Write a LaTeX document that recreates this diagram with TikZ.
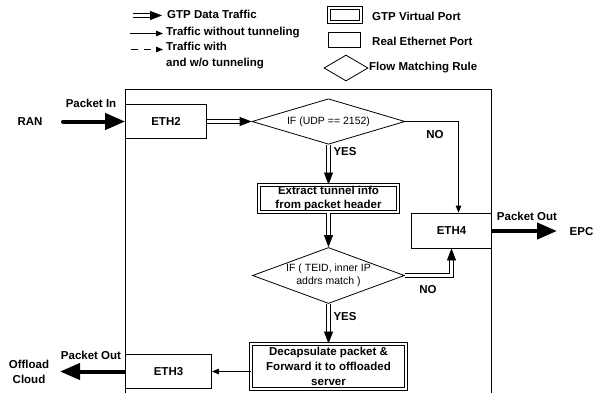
\documentclass[tikz,border=0pt]{standalone}
\usepackage{fontspec}
\setmainfont{Liberation Sans}
\usetikzlibrary{arrows.meta,shapes.geometric,calc}
\begin{document}
\begin{tikzpicture}[x=1pt,y=-1pt,
  bf/.style={font=\fontsize{11.5}{15}\selectfont\bfseries},
  port/.style={draw, rectangle, line width=0.8pt, inner sep=0pt, align=center, bf},
  gtp/.style={port, double, line width=1pt, double distance=2pt},
  rule/.style={draw, diamond, aspect=3, inner sep=0pt, line width=0.8pt, align=center, font=\fontsize{10.5}{12.5}\selectfont},
  dbl/.style={draw=none,
    postaction={draw, double, double distance=3pt, line width=1pt, shorten >=6pt},
    postaction={draw, line width=0.8pt, dash pattern=on 0pt off 10000pt, -{Triangle[length=12pt,width=9pt]}}},
  plain/.style={line width=1pt, -{Triangle[length=7pt,width=5.5pt]}},
  fat/.style={line width=4pt, -{Triangle[length=20pt,width=16pt]}},
  txt/.style={bf, inner sep=0pt},
]
\useasboundingbox (0,0) rectangle (596,392);

% outer switch box
\draw[line width=1pt] (125.5,393) -- (125.5,89.5) -- (491.5,89.5) -- (491.5,393);

% legend
\coordinate (g1) at (133,15.5); \coordinate (g2) at (162,15.5);
\path[dbl] (g1) -- (g2);
\node[txt, anchor=west] (tg) at (167,14.5) {GTP Data Traffic};
\coordinate (s1) at (130,33.5); \coordinate (s2) at (163,33.5);
\draw[plain] (s1) -- (s2);
\node[txt, anchor=west] (ts) at (166,33) {Traffic without tunneling};
\coordinate (h1) at (131,49.5); \coordinate (h2) at (163,49.5);
\draw[plain, dash pattern=on 7pt off 6pt] (h1) -- (h2);
\node[txt, anchor=west, align=left, font=\fontsize{11.5}{16}\selectfont\bfseries] (th) at (166,56) {Traffic with\\and w/o tunneling};
\node[gtp, minimum width=32pt, minimum height=14pt] (lgtp) at (345,15) {};
\node[txt, anchor=west] (tlg) at (372,16) {GTP Virtual Port};
\node[port, minimum width=32pt, minimum height=15pt] (leth) at (344,39.5) {};
\node[txt, anchor=west] (tle) at (372,41) {Real Ethernet Port};
\node[rule, minimum width=44pt, minimum height=26pt] (lrule) at (346,68) {};
\node[txt, anchor=west] (tlr) at (369,68) {Flow Matching Rule};

% ports and steps
\node[port, minimum width=81pt, minimum height=34pt] (eth2) at (166,121.5) {ETH2};
\node[port, minimum width=80pt, minimum height=35pt] (eth4) at (451.5,230.5) {ETH4};
\node[port, minimum width=86pt, minimum height=34pt] (eth3) at (168.5,371.5) {ETH3};
\node[rule, minimum width=153pt, minimum height=45.5pt] (d1) at (328.5,121.5) {IF (UDP == 2152)};
\node[gtp, minimum width=139pt, minimum height=27pt] (ext) at (328.5,198.5) {Extract tunnel info\\[-0.5pt]from packet header};
\node[rule, minimum width=152pt, minimum height=56pt] (d2) at (328.5,275.5) {IF ( TEID, inner IP\\addrs match )};
\node[gtp, minimum width=155pt, minimum height=45pt] (dec) at (328.5,366.5) {Decapsulate packet \&\\Forward it to offloaded\\server};

% labels
\node[txt] (ran) at (30,122) {RAN};
\node[txt] (pin) at (91,103) {Packet In};
\node[txt] (pout1) at (527,216) {Packet Out};
\node[txt] (epc) at (581.5,232) {EPC};
\node[txt] (pout2) at (91,355) {Packet Out};
\node[txt, align=center] (off) at (29,371.5) {Offload\\Cloud};
\node[txt] (yes1) at (345,152) {YES};
\node[txt] (no1) at (435,135) {NO};
\node[txt] (no2) at (428,290) {NO};
\node[txt] (yes2) at (345,317) {YES};

% external thick arrows
\coordinate (ranA) at (63,121.5);
\draw[fat, line cap=round] (ranA) -- (eth2.west);
\coordinate (epcA) at (557,231);
\draw[fat] (eth4.east |- epcA) -- (epcA);
\coordinate (offA) at (60,371.5);
\draw[fat] (eth3.west) -- (offA);

% internal flow
\path[dbl] (eth2.east) -- (d1.west);
\path[dbl] (d1.south) -- (ext.north);
\draw[plain] (d1.east) -| ([xshift=7pt]eth4.north);
\path[dbl] (ext.south) -- (d2.north);
\path[dbl] (d2.east) -| (eth4.south);
\path[dbl] (d2.south) -- (dec.north);
\draw[plain] (dec.west |- eth3.east) -- (eth3.east);
\end{tikzpicture}
\end{document}
